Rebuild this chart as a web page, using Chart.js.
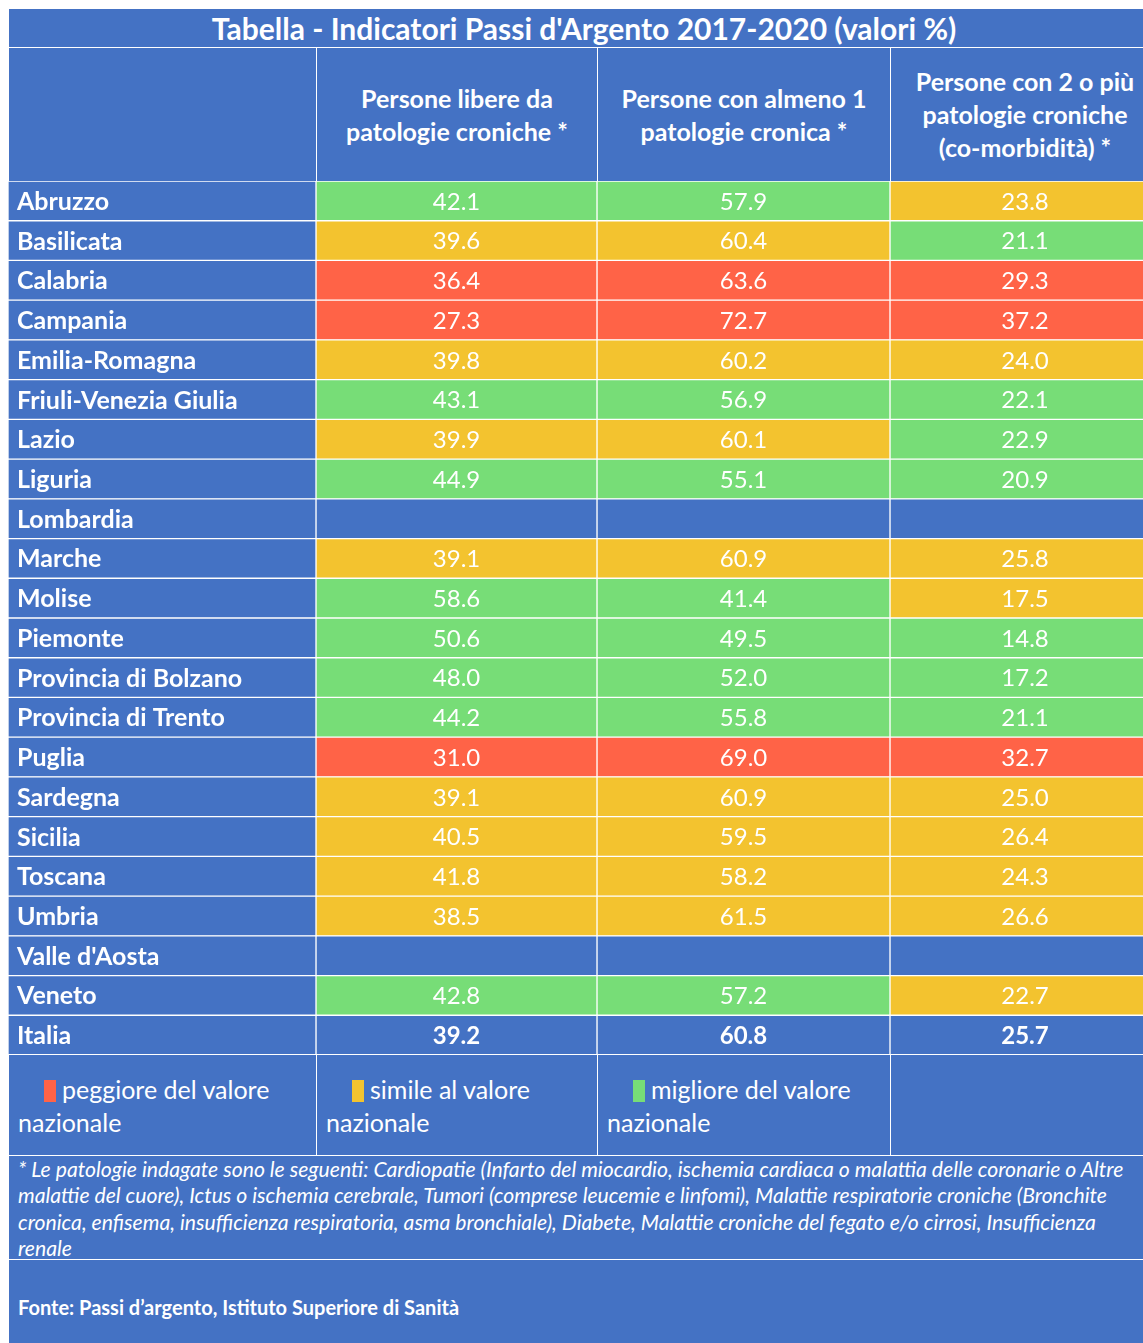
<!DOCTYPE html>
<html lang="it">
<head>
    <meta charset="UTF-8">
    <title>Indicatori Passi d'Argento 2017-2020</title>
    <style>
        html, body {
            margin: 0;
            padding: 0;
            background: #fff;
            overflow: hidden;
            width: 1143px;
            height: 1343px;
        }

        body {
            position: relative;
            font-family: Lato, "Noto Sans", sans-serif;
            color: #fff;
        }

        .cell {
            position: absolute;
            box-sizing: border-box;
            background: #4472C4;
            border: 1px solid #fff;
        }

        #title {
            left: 8px; top: 8px; width: 1152px; height: 40px;
            font-weight: bold;
            font-size: 30px;
            text-align: center;
            line-height: 39px;
        }

        .head {
            top: 47px; height: 135px;
            display: flex;
            align-items: center;
            justify-content: center;
            text-align: center;
            font-weight: bold;
            font-size: 25px;
            line-height: 33px;
        }

        .legend {
            top: 1054px; height: 102px;
            font-size: 25px;
            line-height: 33px;
            padding: 18px 0 0 9px;
        }

        .legend .mark {
            display: inline-block;
            width: 12px;
            height: 22px;
            margin: 0 6px 0 26px;
            vertical-align: -3px;
        }

        #note {
            left: 8px; top: 1155px; width: 1152px; height: 105px;
            font-style: italic;
            font-size: 21.2px;
            line-height: 26.3px;
            padding: 0 0 0 9px;
            white-space: nowrap;
        }

        #source {
            left: 8px; top: 1259px; width: 1152px; height: 120px;
            font-weight: bold;
            font-size: 20px;
            padding: 35px 0 0 9px;
        }

        #grid {
            position: absolute;
            left: 8px;
            top: 181px;
            width: 1152px;
            height: 874px;
        }
    </style>
</head>
<body>
    <div class="cell" id="title">Tabella - Indicatori Passi d'Argento 2017-2020 (valori %)</div>

    <div class="cell head" style="left:8px;width:309px;"></div>
    <div class="cell head" style="left:316px;width:282px;">Persone libere da<br>patologie croniche *</div>
    <div class="cell head" style="left:597px;width:294px;">Persone con almeno 1<br>patologie cronica *</div>
    <div class="cell head" style="left:890px;width:270px;">Persone con 2 o più<br>patologie croniche<br>(co-morbidità) *</div>

    <div id="grid"><canvas id="tableChart"></canvas></div>

    <div class="cell legend" style="left:8px;width:309px;"><span class="mark" style="background:#FF6347"></span>peggiore del valore<br>nazionale</div>
    <div class="cell legend" style="left:316px;width:282px;"><span class="mark" style="background:#F3C32F"></span>simile al valore<br>nazionale</div>
    <div class="cell legend" style="left:597px;width:294px;"><span class="mark" style="background:#77DD77"></span>migliore del valore<br>nazionale</div>
    <div class="cell legend" style="left:890px;width:270px;"></div>

    <div class="cell" id="note">* Le patologie indagate sono le seguenti: Cardiopatie (Infarto del miocardio, ischemia cardiaca o malattia delle coronarie o Altre<br>malattie del cuore), Ictus o ischemia cerebrale, Tumori (comprese leucemie e linfomi), Malattie respiratorie croniche (Bronchite<br>cronica, enfisema, insufficienza respiratoria, asma bronchiale), Diabete, Malattie croniche del fegato e/o cirrosi, Insufficienza<br>renale</div>
    <div class="cell" id="source">Fonte: Passi d’argento, Istituto Superiore di Sanità</div>

    <script src="https://cdn.jsdelivr.net/npm/chart.js"></script>
    <script>
        const regioni = [
            'Abruzzo', 'Basilicata', 'Calabria', 'Campania', 'Emilia-Romagna',
            'Friuli-Venezia Giulia', 'Lazio', 'Liguria', 'Lombardia', 'Marche',
            'Molise', 'Piemonte', 'Provincia di Bolzano', 'Provincia di Trento',
            'Puglia', 'Sardegna', 'Sicilia', 'Toscana', 'Umbria', "Valle d'Aosta",
            'Veneto', 'Italia'
        ];

        const libere = [42.1, 39.6, 36.4, 27.3, 39.8, 43.1, 39.9, 44.9, null, 39.1,
            58.6, 50.6, 48.0, 44.2, 31.0, 39.1, 40.5, 41.8, 38.5, null, 42.8, 39.2];
        const almenoUna = [57.9, 60.4, 63.6, 72.7, 60.2, 56.9, 60.1, 55.1, null, 60.9,
            41.4, 49.5, 52.0, 55.8, 69.0, 60.9, 59.5, 58.2, 61.5, null, 57.2, 60.8];
        const comorbidita = [23.8, 21.1, 29.3, 37.2, 24.0, 22.1, 22.9, 20.9, null, 25.8,
            17.5, 14.8, 17.2, 21.1, 32.7, 25.0, 26.4, 24.3, 26.6, null, 22.7, 25.7];

        // confronto col valore nazionale: P = peggiore, S = simile, M = migliore
        const esitoLibere = ['M', 'S', 'P', 'P', 'S', 'M', 'S', 'M', null, 'S',
            'M', 'M', 'M', 'M', 'P', 'S', 'S', 'S', 'S', null, 'M', null];
        const esitoAlmenoUna = ['M', 'S', 'P', 'P', 'S', 'M', 'S', 'M', null, 'S',
            'M', 'M', 'M', 'M', 'P', 'S', 'S', 'S', 'S', null, 'M', null];
        const esitoComorbidita = ['S', 'M', 'P', 'P', 'S', 'M', 'M', 'M', null, 'S',
            'S', 'M', 'M', 'M', 'P', 'S', 'S', 'S', 'S', null, 'S', null];

        // column edges in px inside the grid (layout only)
        const colEdges = [0, 308, 589, 882, 1152];
        const BLUE = '#4472C4';
        const esitoColors = { P: '#FF6347', S: '#F3C32F', M: '#77DD77' };

        const values = [null, libere, almenoUna, comorbidita];
        const esiti = [null, esitoLibere, esitoAlmenoUna, esitoComorbidita];

        function makeColumn(j) {
            return {
                data: regioni.map(() => [colEdges[j], colEdges[j + 1]]),
                backgroundColor: regioni.map((r, i) => {
                    if (!esiti[j]) return BLUE;
                    const e = esiti[j][i];
                    return e ? esitoColors[e] : BLUE;
                }),
                borderColor: '#fff',
                borderWidth: 1,
                borderSkipped: false,
                barPercentage: 1,
                categoryPercentage: 1,
                grouped: false
            };
        }

        const cellText = {
            id: 'cellText',
            afterDatasetsDraw(chart) {
                const ctx = chart.ctx;
                ctx.save();
                ctx.fillStyle = '#fff';
                ctx.textBaseline = 'middle';
                chart.data.datasets.forEach((ds, j) => {
                    const meta = chart.getDatasetMeta(j);
                    meta.data.forEach((el, i) => {
                        const bold = regioni[i] === 'Italia';
                        if (j === 0) {
                            ctx.font = 'bold 25px Lato';
                            ctx.textAlign = 'left';
                            ctx.fillText(regioni[i], el.base + 9, el.y + 1);
                        } else {
                            const v = values[j][i];
                            if (v === null) return;
                            ctx.font = (bold ? 'bold ' : '') + '24px Lato';
                            ctx.textAlign = 'center';
                            ctx.fillText(v.toFixed(1), (el.base + el.x) / 2, el.y + 1);
                        }
                    });
                });
                ctx.restore();
            }
        };

        new Chart(document.getElementById('tableChart'), {
            type: 'bar',
            data: {
                labels: regioni,
                datasets: [0, 1, 2, 3].map(makeColumn)
            },
            options: {
                indexAxis: 'y',
                responsive: true,
                maintainAspectRatio: false,
                animation: false,
                devicePixelRatio: 1,
                layout: { padding: 0 },
                scales: {
                    x: { type: 'linear', min: 0, max: 1152, display: false },
                    y: { type: 'category', display: false }
                },
                plugins: {
                    legend: { display: false },
                    tooltip: { enabled: false }
                }
            },
            plugins: [cellText]
        });
    </script>
</body>
</html>
